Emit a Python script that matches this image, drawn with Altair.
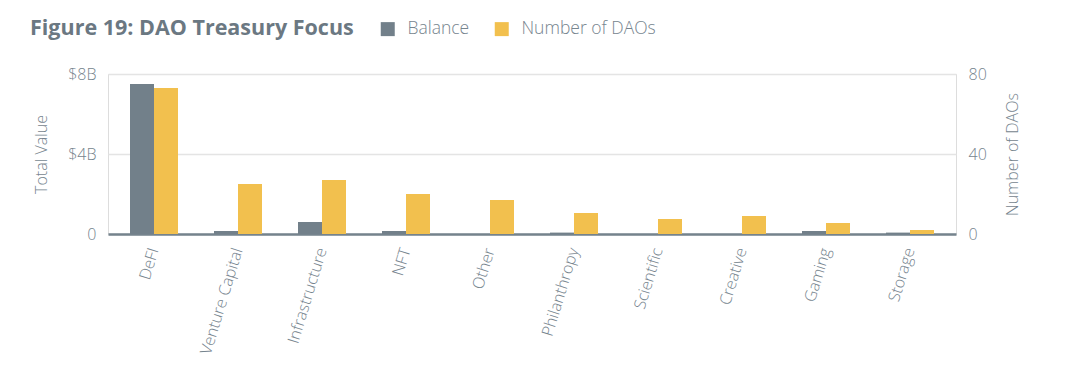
import altair as alt
import pandas as pd

categories = ["DeFI", "Venture Capital", "Infrastructure", "NFT", "Other",
              "Philanthropy", "Scientific", "Creative", "Gaming", "Storage"]
balance_b = [7.5, 0.15, 0.6, 0.15, 0.0, 0.07, 0.0, 0.0, 0.15, 0.07]
num_daos = [73, 25, 27, 20, 17, 10.5, 7.5, 9, 5.5, 2]
series = ["Balance", "Number of DAOs"]
colors = ["#72808a", "#f2c04e"]

rows = []
for c, b, n in zip(categories, balance_b, num_daos):
    rows.append({"category": c, "series": series[0], "value": b})
    rows.append({"category": c, "series": series[1], "value": n})
df = pd.DataFrame(rows)

TXT = "#76848e"
FONT = "Open Sans"

x_enc = alt.X("category:N", sort=categories,
              scale=alt.Scale(paddingInner=0.4286, paddingOuter=0.262),
              axis=alt.Axis(title=None, labelAngle=287, labelFontSize=16,
                            labelFont=FONT, labelFontWeight=300, labelColor=TXT,
                            ticks=False, labelPadding=14, domainColor="#75838d",
                            domainWidth=2.5, labelLimit=300))
xo_enc = alt.XOffset("series:N", scale=alt.Scale(domain=series, paddingInner=0, paddingOuter=0))
color_enc = alt.Color("series:N", scale=alt.Scale(domain=series, range=colors),
                      legend=alt.Legend(title="Figure 19: DAO Treasury Focus",
                                        titleOrient="left", titleFont=FONT,
                                        titleFontSize=21.5, titleFontWeight="bold",
                                        titleColor="#6b7882", titlePadding=25,
                                        titleLimit=600,
                                        orient="none", legendX=-78, legendY=-54,
                                        direction="horizontal", symbolType="square",
                                        symbolSize=196, symbolStrokeWidth=0,
                                        symbolOpacity=1,
                                        labelFont=FONT, labelFontSize=17.5,
                                        labelFontWeight=300, labelColor=TXT,
                                        labelOffset=11, columnPadding=23,
                                        labelLimit=300))

base = alt.Chart(df).encode(x=x_enc, xOffset=xo_enc, color=color_enc)

left = base.transform_filter(alt.datum.series == "Balance").mark_bar().encode(
    y=alt.Y("value:Q", scale=alt.Scale(domain=[0, 8]),
            axis=alt.Axis(title="Total Value", values=[0, 4, 8],
                          labelExpr="datum.value == 0 ? '0' : '$' + datum.value + 'B'",
                          labelFont=FONT, labelFontSize=16, labelFontWeight=300,
                          labelColor=TXT, labelPadding=12, ticks=False, domain=False,
                          gridColor="#e4e4e4", gridWidth=1.5,
                          titleFont=FONT, titleFontSize=16, titleFontWeight=300,
                          titleColor=TXT, titlePadding=18))
)
right = base.transform_filter(alt.datum.series == "Number of DAOs").mark_bar().encode(
    y=alt.Y("value:Q", scale=alt.Scale(domain=[0, 80]),
            axis=alt.Axis(title="Number of DAOs", orient="right", values=[0, 40, 80],
                          labelFont=FONT, labelFontSize=16, labelFontWeight=300,
                          labelColor=TXT, labelPadding=12, ticks=False, domain=False,
                          grid=False, titleAngle=270,
                          titleFont=FONT, titleFontSize=16, titleFontWeight=300,
                          titleColor=TXT, titlePadding=34))
)

chart = alt.layer(left, right).resolve_scale(y="independent").properties(
    width=848, height=160,
    padding={"left": 22, "top": 12, "right": 5, "bottom": 0},
).configure_view(stroke=None).configure(background="white")

chart.save("out.html", embed_options={"renderer": "svg", "actions": False})
